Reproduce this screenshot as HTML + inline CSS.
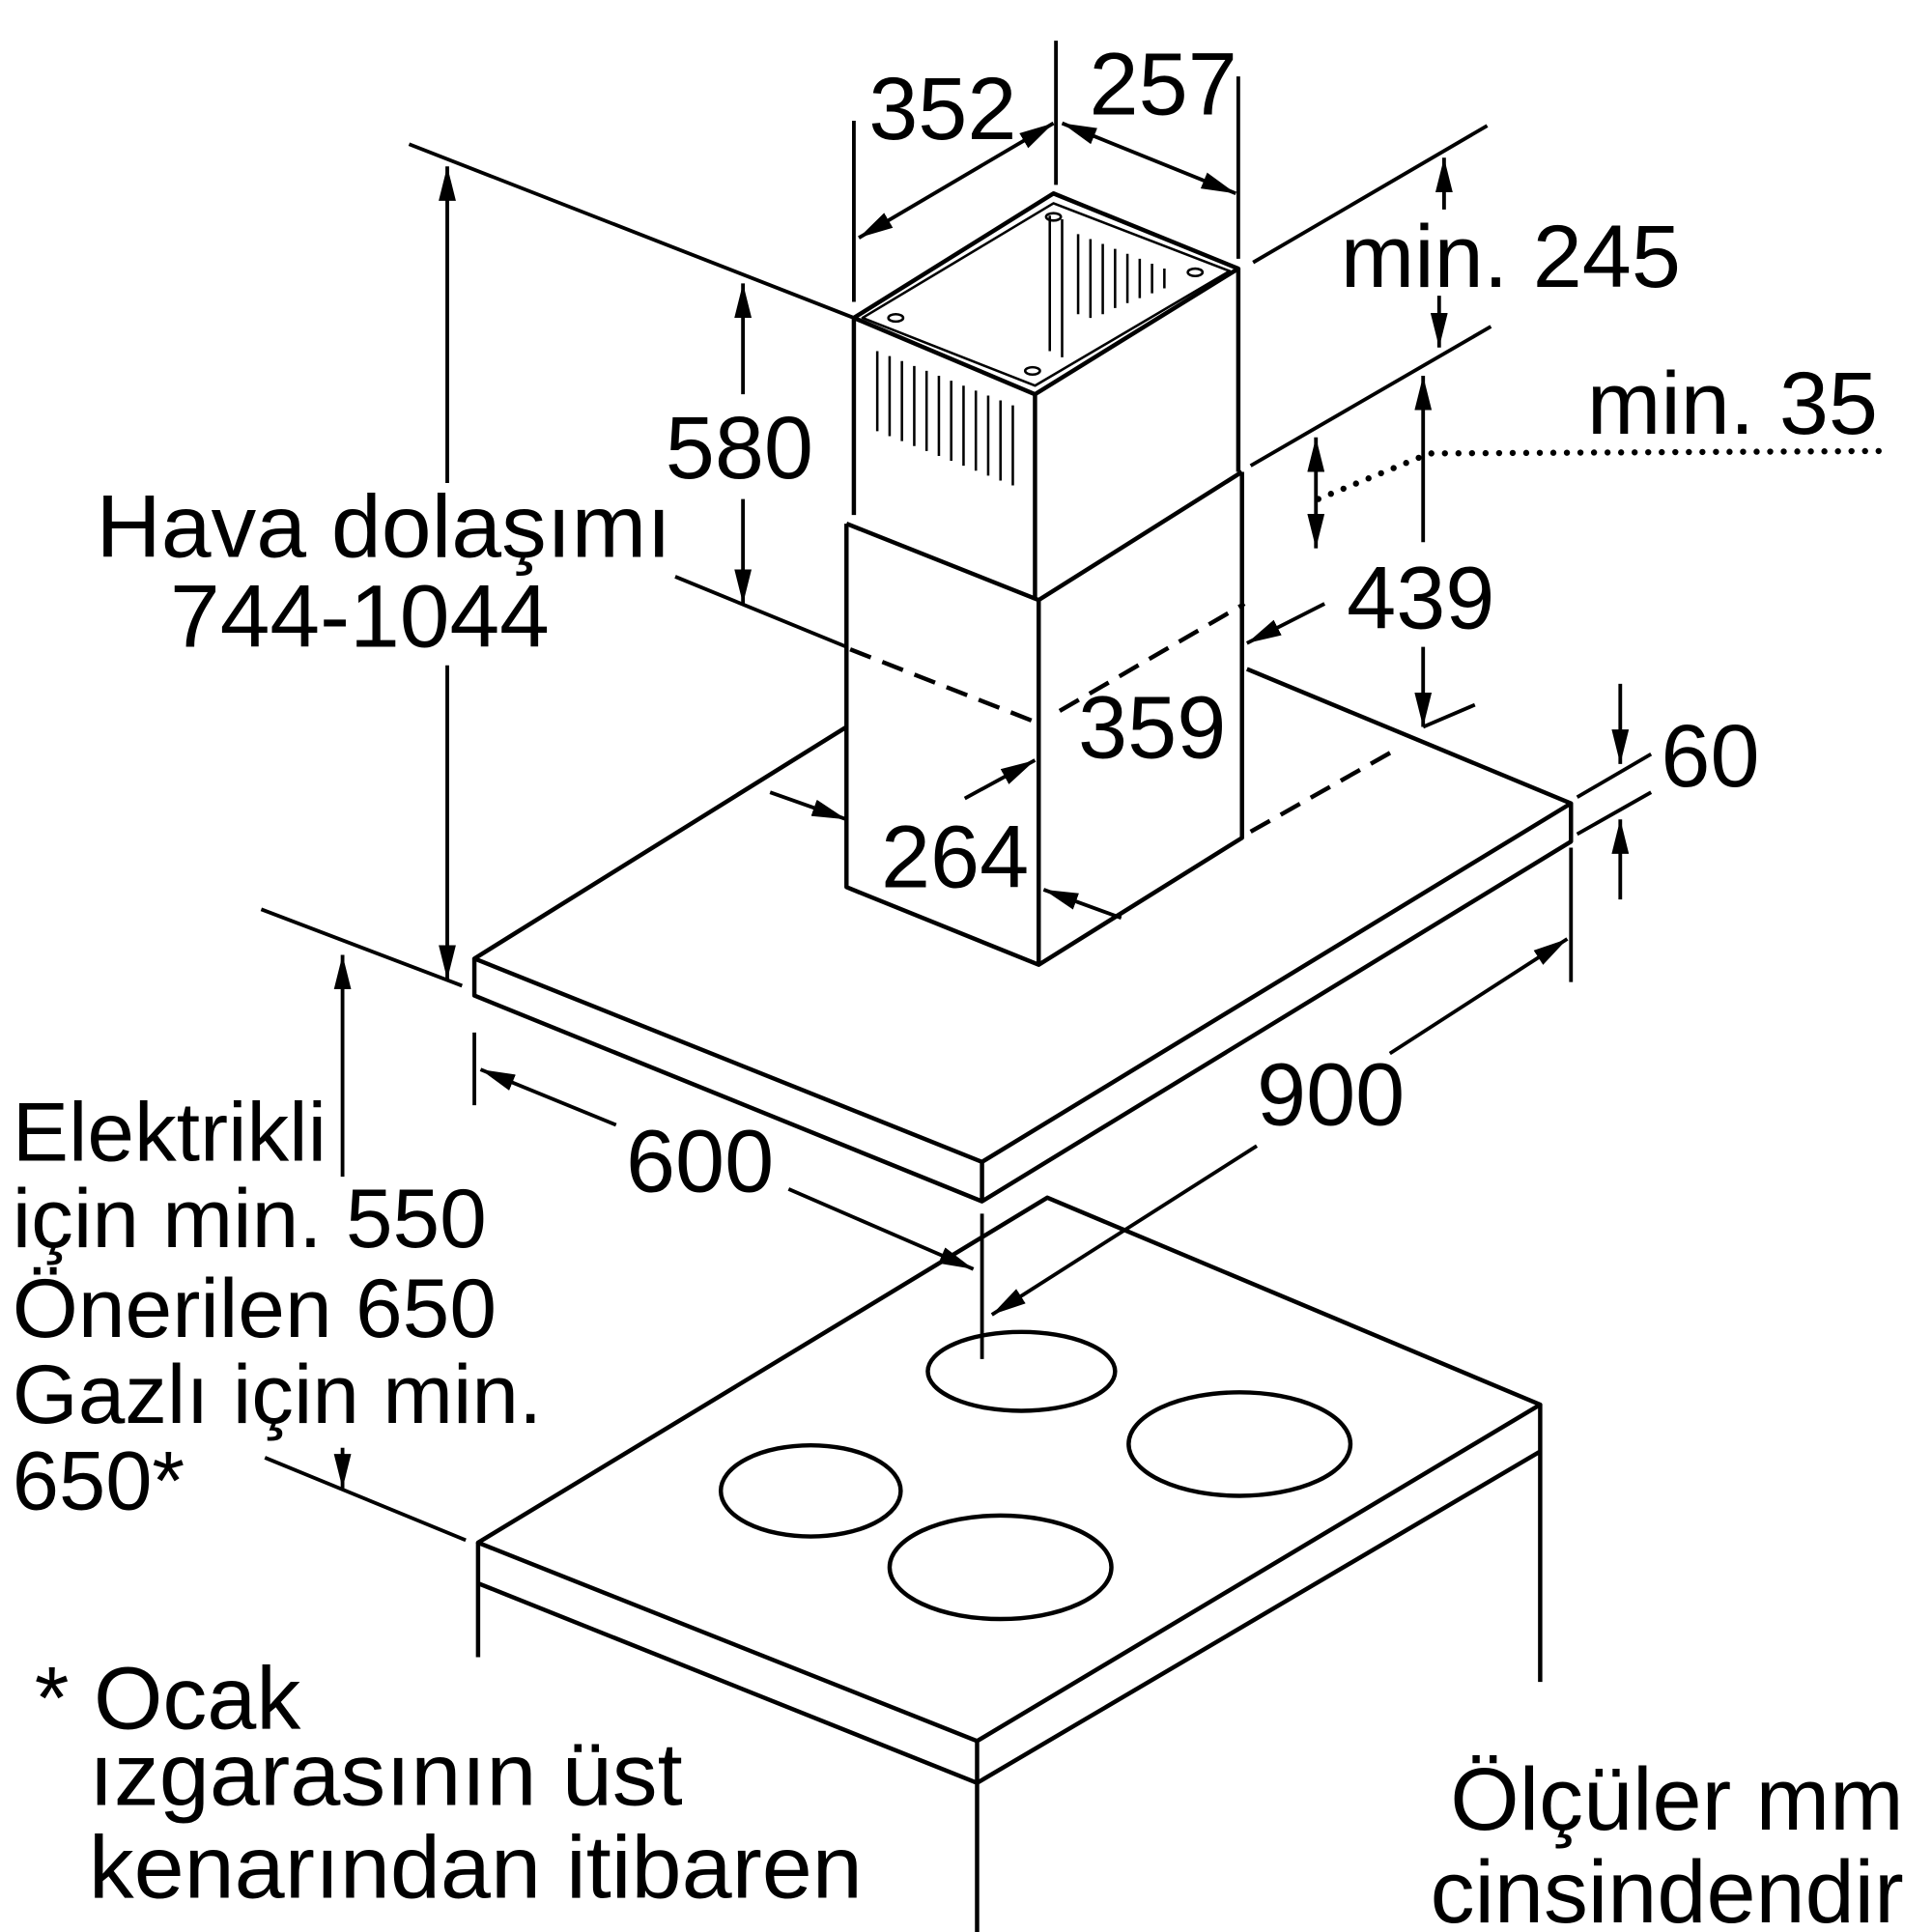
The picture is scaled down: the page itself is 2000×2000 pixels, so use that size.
<!DOCTYPE html>
<html><head><meta charset="utf-8"><style>
html,body{margin:0;padding:0;background:#fff}
svg{display:block}
text{font-family:"Liberation Sans",sans-serif;fill:#000}
</style></head><body>
<svg width="2000" height="2000" viewBox="0 0 1568 1568" xmlns="http://www.w3.org/2000/svg">
<defs>
<marker id="b" viewBox="0 0 10 10" refX="10" refY="5" markerWidth="28" markerHeight="14" markerUnits="userSpaceOnUse" orient="auto-start-reverse" preserveAspectRatio="none">
<path d="M0,0 L10,5 L0,10 z" fill="#000"/></marker>
</defs>
<g stroke="#000" stroke-width="3.5" fill="none" stroke-linejoin="round">
<path d="M693,258 L855,157 L1005,218 L840,320 Z"/>
<path d="M700,258 L855,165 L998,220 L840,313 Z" stroke-width="2"/>
<path d="M693,258 L693,418 M1005,218 L1005,383 M840,320 L840,487"/>
<g stroke-width="2">
<path d="M712,285 L712,350 M722,289 L722,354 M732,293 L732,358 M742,297 L742,362 M752,301 L752,366 M762,305 L762,370 M772,309 L772,374 M782,313 L782,378 M792,317 L792,382 M802,321 L802,386 M812,325 L812,390 M822,329 L822,394"/>
<path d="M875,190 L875,255 M885,194 L885,258 M895,198 L895,255 M905,202 L905,250 M915,206 L915,246 M925,210 L925,242 M935,214 L935,238 M945,218 L945,234"/>
<path d="M852,175 L852,285 M862,178 L862,290"/>
<ellipse cx="727" cy="258" rx="6" ry="3"/><ellipse cx="855" cy="176" rx="6" ry="3"/><ellipse cx="970" cy="221" rx="6" ry="3"/><ellipse cx="838" cy="301" rx="6" ry="3"/>
</g>
<path d="M687,425 L843,487 L1008,383 M687,425 L687,720 L843,783 L1008,680 L1008,383 M843,487 L843,783"/>
<path d="M687,590 L385,778 L797,943 L1275,652 L1012,543"/>
<path d="M385,778 L385,808 L797,975 L1275,683 L1275,652 M797,943 L797,975"/>
<path d="M690,527 L843,587 M860,577 L1010,490 M1015,675 L1130,610" stroke-dasharray="18,10"/>
<path d="M850,972 L388,1252 L793,1413 L1250,1140 Z"/>
<path d="M388,1285 L793,1447 L1250,1178 M388,1252 L388,1345 M793,1413 L793,1568 M1250,1140 L1250,1365"/>
<ellipse cx="829" cy="1113" rx="76" ry="32"/>
<ellipse cx="1006" cy="1172" rx="90" ry="42"/>
<ellipse cx="658" cy="1210" rx="73" ry="37"/>
<ellipse cx="812" cy="1272" rx="90" ry="42"/>
</g>
<g stroke="#000" stroke-width="3" fill="none">
<path d="M332,117 L693,258 M212,738 L375,800 M215,1183 L378,1250 M548,468 L687,525"/>
<path d="M693,98 L693,245 M857,33 L857,150 M1005,62 L1005,210"/>
<path d="M1017,213 L1207,102 M1015,378 L1210,265 M1155,590 L1197,572"/>
<path d="M1280,647 L1340,612 M1280,677 L1340,643 M1275,688 L1275,797 M385,838 L385,897 M797,985 L797,1103"/>
<path d="M363,392 L363,135" marker-end="url(#b)"/>
<path d="M363,540 L363,795" marker-end="url(#b)"/>
<path d="M278,955 L278,775" marker-end="url(#b)"/>
<path d="M278,1175 L278,1208" marker-end="url(#b)"/>
<path d="M603,320 L603,230" marker-end="url(#b)"/>
<path d="M603,405 L603,490" marker-end="url(#b)"/>
<path d="M697,193 L855,100" marker-start="url(#b)" marker-end="url(#b)"/>
<path d="M862,100 L1003,157" marker-start="url(#b)" marker-end="url(#b)"/>
<path d="M1172,170 L1172,128" marker-end="url(#b)"/>
<path d="M1168,240 L1168,282" marker-end="url(#b)"/>
<path d="M1068,355 L1068,445" marker-start="url(#b)" marker-end="url(#b)"/>
<path d="M1155,440 L1155,305" marker-end="url(#b)"/>
<path d="M1155,525 L1155,590" marker-end="url(#b)"/>
<path d="M1075,490 L1012,522" marker-end="url(#b)"/>
<path d="M625,643 L687,665" marker-end="url(#b)"/>
<path d="M783,648 L840,617" marker-end="url(#b)"/>
<path d="M910,745 L847,722" marker-end="url(#b)"/>
<path d="M1315,555 L1315,620" marker-end="url(#b)"/>
<path d="M1315,730 L1315,665" marker-end="url(#b)"/>
<path d="M1128,855 L1272,762" marker-end="url(#b)"/>
<path d="M1020,930 L805,1067" marker-end="url(#b)"/>
<path d="M500,913 L390,868" marker-end="url(#b)"/>
<path d="M640,965 L790,1030" marker-end="url(#b)"/>
</g>
<path d="M1070,405 L1160,368 L1535,366" stroke="#000" stroke-width="5" stroke-dasharray="0,11" stroke-linecap="round" fill="none"/>
<g font-size="72">
<text x="705" y="113">352</text>
<text x="884" y="93">257</text>
<text x="1088" y="233">min. 245</text>
<text x="1288" y="352">min. 35</text>
<text x="540" y="388">580</text>
<text x="1093" y="510">439</text>
<text x="875" y="615">359</text>
<text x="715" y="720">264</text>
<text x="1348" y="638">60</text>
<text x="1020" y="913">900</text>
<text x="508" y="967">600</text>
</g>
<g font-size="72">
<text x="78" y="452" textLength="467" lengthAdjust="spacingAndGlyphs">Hava dolaşımı</text>
<text x="138" y="525" textLength="308" lengthAdjust="spacingAndGlyphs">744-1044</text>
<text x="28" y="1403">* Ocak</text>
<text x="72" y="1465" textLength="482" lengthAdjust="spacingAndGlyphs">ızgarasının üst</text>
<text x="72" y="1540" textLength="628" lengthAdjust="spacingAndGlyphs">kenarından itibaren</text>
<text x="1545" y="1485" text-anchor="end">Ölçüler mm</text>
<text x="1545" y="1560" text-anchor="end">cinsindendir</text>
</g>
<g font-size="68">
<text x="10" y="942" textLength="255" lengthAdjust="spacingAndGlyphs">Elektrikli</text>
<text x="10" y="1012" textLength="385" lengthAdjust="spacingAndGlyphs">için min. 550</text>
<text x="10" y="1085" textLength="393" lengthAdjust="spacingAndGlyphs">Önerilen 650</text>
<text x="10" y="1155" textLength="430" lengthAdjust="spacingAndGlyphs">Gazlı için min.</text>
<text x="10" y="1225">650*</text>
</g>
</svg>
</body></html>
